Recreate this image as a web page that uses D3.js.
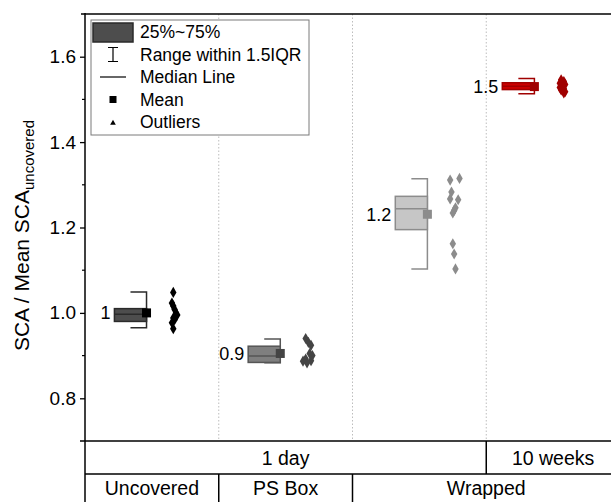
<!DOCTYPE html>
<html>
<head>
<meta charset="utf-8">
<script src="https://cdn.jsdelivr.net/npm/d3@7"></script>
<style>
  html, body { margin: 0; padding: 0; background: #fff; }
  svg { display: block; font-family: "Liberation Sans", Arial, sans-serif; }
</style>
</head>
<body>
<div id="chart"></div>
<script>
// half-box plots (box left, jittered points right), grouped category table below
const groups = ["Uncovered", "PS Box", "Wrapped 1 day", "Wrapped 10 weeks"];
const groupPos = [1, 2, 3.1, 3.9];
const q1 = [0.980, 0.884, 1.195, 1.523];
const q3 = [1.010, 0.922, 1.273, 1.539];
const median = [0.997, 0.899, 1.244, 1.531];
const whiskLo = [0.965, 0.883, 1.103, 1.513];
const whiskHi = [1.049, 0.939, 1.314, 1.549];
const mean = [1.000, 0.905, 1.231, 1.530];
const meanLabels = ["1", "0.9", "1.2", "1.5"];

const ptsUncovered = [1.048, 1.023, 1.016, 1.008, 1.000, 0.995, 0.988, 0.984, 0.977, 0.963];
const ptsPSBox = [0.940, 0.931, 0.924, 0.905, 0.900, 0.892, 0.888, 0.887, 0.883];
const ptsWrapped = [1.315, 1.311, 1.283, 1.267, 1.265, 1.246, 1.240, 1.234, 1.162, 1.138, 1.103];
const ptsWrapped10 = [1.546, 1.542, 1.538, 1.535, 1.531, 1.528, 1.525, 1.522, 1.518, 1.515];
const points = [ptsUncovered, ptsPSBox, ptsWrapped, ptsWrapped10];
// horizontal scatter of the points, in category units
const jitUncovered = [0.0, -0.01, 0.0, 0.01, 0.02, 0.03, 0.0, 0.01, -0.01, 0.0];
const jitPSBox = [-0.01, 0.01, 0.03, 0.02, 0.04, -0.01, 0.03, -0.03, 0.0];
const jitWrapped = [0.04, -0.03, -0.02, -0.03, 0.03, 0.01, 0.0, -0.01, -0.01, 0.0, 0.01];
const jitWrapped10 = [0.0, 0.02, -0.01, 0.03, 0.01, -0.01, 0.02, 0.0, 0.03, 0.02];
const jitter = [jitUncovered, jitPSBox, jitWrapped, jitWrapped10];

const yTicks = [0.8, 1.0, 1.2, 1.4, 1.6];
const yMinor = [0.9, 1.1, 1.3, 1.5];
const row1 = [{ label: "1 day", from: 0.5, to: 3.5 }, { label: "10 weeks", from: 3.5, to: 4.5 }];
const row2 = [{ label: "Uncovered", from: 0.5, to: 1.5 }, { label: "PS Box", from: 1.5, to: 2.5 }, { label: "Wrapped", from: 2.5, to: 4.5 }];

const fills = ["#4d4d4d", "#7f7f7f", "#c6c6c6", "#cc0000"];
const strokes = ["#2a2a2a", "#555555", "#8c8c8c", "#a00000"];
const markColors = ["#000000", "#444444", "#8c8c8c", "#a00000"];

const W = 611, H = 502;
const margin = { top: 14, left: 85, bottom: 441, right: 620 };
const svg = d3.select("#chart").append("svg").attr("width", W).attr("height", H);

const x = d3.scaleLinear().domain([0.5, 4.5]).range([margin.left, margin.right]);
const y = d3.scaleLinear().domain([0.7, 1.7]).range([margin.bottom, margin.top]);

// dotted category separators
svg.append("g").selectAll("line").data([1.5, 2.5, 3.5]).join("line")
  .attr("x1", d => x(d)).attr("x2", d => x(d))
  .attr("y1", margin.top).attr("y2", margin.bottom)
  .attr("stroke", "#bdbdbd").attr("stroke-width", 1).attr("stroke-dasharray", "1.5,2");

// left axis
const gy = svg.append("g").attr("transform", `translate(${margin.left},0)`)
  .call(d3.axisLeft(y).tickValues(yTicks).tickFormat(d3.format(".1f")).tickSize(5).tickPadding(4));
gy.select(".domain").remove();
gy.selectAll(".tick line").attr("stroke", "#000").attr("stroke-width", 1.3);
gy.selectAll(".tick text").attr("font-size", 19).attr("fill", "#000")
  .style("font-family", "Liberation Sans, Arial, sans-serif");
svg.append("g").selectAll("line").data(yMinor).join("line")
  .attr("x1", margin.left - 3).attr("x2", margin.left)
  .attr("y1", d => y(d)).attr("y2", d => y(d))
  .attr("stroke", "#000").attr("stroke-width", 1.2);

// frame lines
svg.append("line").attr("x1", margin.left).attr("x2", margin.left)
  .attr("y1", margin.top - 1).attr("y2", H).attr("stroke", "#000").attr("stroke-width", 1.5);
svg.append("line").attr("x1", margin.left - 4).attr("x2", W)
  .attr("y1", margin.top).attr("y2", margin.top).attr("stroke", "#000").attr("stroke-width", 1.5);
svg.append("line").attr("x1", margin.left - 5).attr("x2", W)
  .attr("y1", margin.bottom).attr("y2", margin.bottom).attr("stroke", "#000").attr("stroke-width", 1.5);

// y title
const title = svg.append("text")
  .attr("transform", `translate(29,${(margin.top + margin.bottom) / 2 + 8}) rotate(-90)`)
  .attr("text-anchor", "middle").attr("font-size", 21).attr("fill", "#000");
title.append("tspan").text("SCA / Mean SCA");
title.append("tspan").attr("font-size", 15).attr("dy", 5).text("uncovered");

// boxes
const idx = d3.range(groups.length);
const boxL = 0.28, boxR = 0.04, capL = 0.16, ptsOff = 0.16;
const gBox = svg.append("g");
idx.forEach(i => {
  const p = groupPos[i];
  const g = gBox.append("g");
  const xr = x(p - boxR);
  // whisker: vertical at box right edge, caps extending left
  g.append("path")
    .attr("d", `M${x(p - capL)},${y(whiskHi[i])}H${xr}V${y(whiskLo[i])}H${x(p - capL)}`)
    .attr("fill", "none").attr("stroke", strokes[i]).attr("stroke-width", 1.5);
  g.append("rect")
    .attr("x", x(p - boxL)).attr("width", xr - x(p - boxL))
    .attr("y", y(q3[i])).attr("height", y(q1[i]) - y(q3[i]))
    .attr("fill", fills[i]).attr("stroke", strokes[i]).attr("stroke-width", 1.5);
  g.append("line")
    .attr("x1", x(p - boxL)).attr("x2", xr)
    .attr("y1", y(median[i])).attr("y2", y(median[i]))
    .attr("stroke", strokes[i]).attr("stroke-width", 1.5);
  g.append("rect")
    .attr("x", xr - 4.5).attr("y", y(mean[i]) - 4.5).attr("width", 9).attr("height", 9)
    .attr("fill", markColors[i]);
  g.append("text")
    .attr("x", x(p - boxL) - 4).attr("y", y(mean[i])).attr("dy", "0.35em")
    .attr("text-anchor", "end").attr("font-size", 18).attr("fill", "#000")
    .text(meanLabels[i]);
  g.selectAll("path.pt").data(points[i]).join("path").attr("class", "pt")
    .attr("d", d3.symbol(d3.symbolDiamond, 36))
    .attr("transform", (d, j) => `translate(${x(p + ptsOff + jitter[i][j])},${y(d)})`)
    .attr("fill", markColors[i]);
});

// category table below the axis
const rowY = [margin.bottom, 474, H];
svg.append("line").attr("x1", margin.left).attr("x2", W)
  .attr("y1", rowY[1]).attr("y2", rowY[1]).attr("stroke", "#000").attr("stroke-width", 1.5);
[row1, row2].forEach((row, r) => {
  const g = svg.append("g");
  g.selectAll("line").data(row.slice(1)).join("line")
    .attr("x1", d => x(d.from)).attr("x2", d => x(d.from))
    .attr("y1", rowY[r]).attr("y2", rowY[r + 1])
    .attr("stroke", "#000").attr("stroke-width", 1.5);
  g.selectAll("text").data(row).join("text")
    .attr("x", d => (x(d.from) + x(d.to)) / 2)
    .attr("y", (rowY[r] + rowY[r + 1]) / 2).attr("dy", "0.36em")
    .attr("text-anchor", "middle").attr("font-size", 19.5).attr("fill", "#000")
    .text(d => d.label);
});

// legend
const legItems = ["25%~75%", "Range within 1.5IQR", "Median Line", "Mean", "Outliers"];
const leg = svg.append("g").attr("transform", "translate(91,20)");
leg.append("rect").attr("width", 218).attr("height", 115)
  .attr("fill", "#fff").attr("stroke", "#7a7a7a").attr("stroke-width", 1);
const legY = d3.scalePoint().domain(legItems).range([12, 102]);
leg.selectAll("text").data(legItems).join("text")
  .attr("x", 49).attr("y", d => legY(d)).attr("dy", "0.36em")
  .attr("font-size", 17.5).attr("fill", "#000").text(d => d);
const sx = 22;
leg.append("rect").attr("x", 2).attr("y", legY(legItems[0]) - 9).attr("width", 40).attr("height", 19)
  .attr("fill", "#4d4d4d").attr("stroke", "#2a2a2a").attr("stroke-width", 1.5);
const wy = legY(legItems[1]);
leg.append("path").attr("d", `M${sx - 5},${wy - 7}H${sx + 5}M${sx},${wy - 7}V${wy + 7}M${sx - 5},${wy + 7}H${sx + 5}`)
  .attr("stroke", "#000").attr("stroke-width", 1.2).attr("fill", "none");
leg.append("line").attr("x1", sx - 13).attr("x2", sx + 13)
  .attr("y1", legY(legItems[2])).attr("y2", legY(legItems[2])).attr("stroke", "#000").attr("stroke-width", 1.2);
leg.append("rect").attr("x", sx - 3.5).attr("y", legY(legItems[3]) - 3.5).attr("width", 7).attr("height", 7).attr("fill", "#000");
leg.append("path").attr("d", d3.symbol(d3.symbolTriangle, 14))
  .attr("transform", `translate(${sx},${legY(legItems[4]) + 1})`).attr("fill", "#000");
</script>
</body>
</html>
